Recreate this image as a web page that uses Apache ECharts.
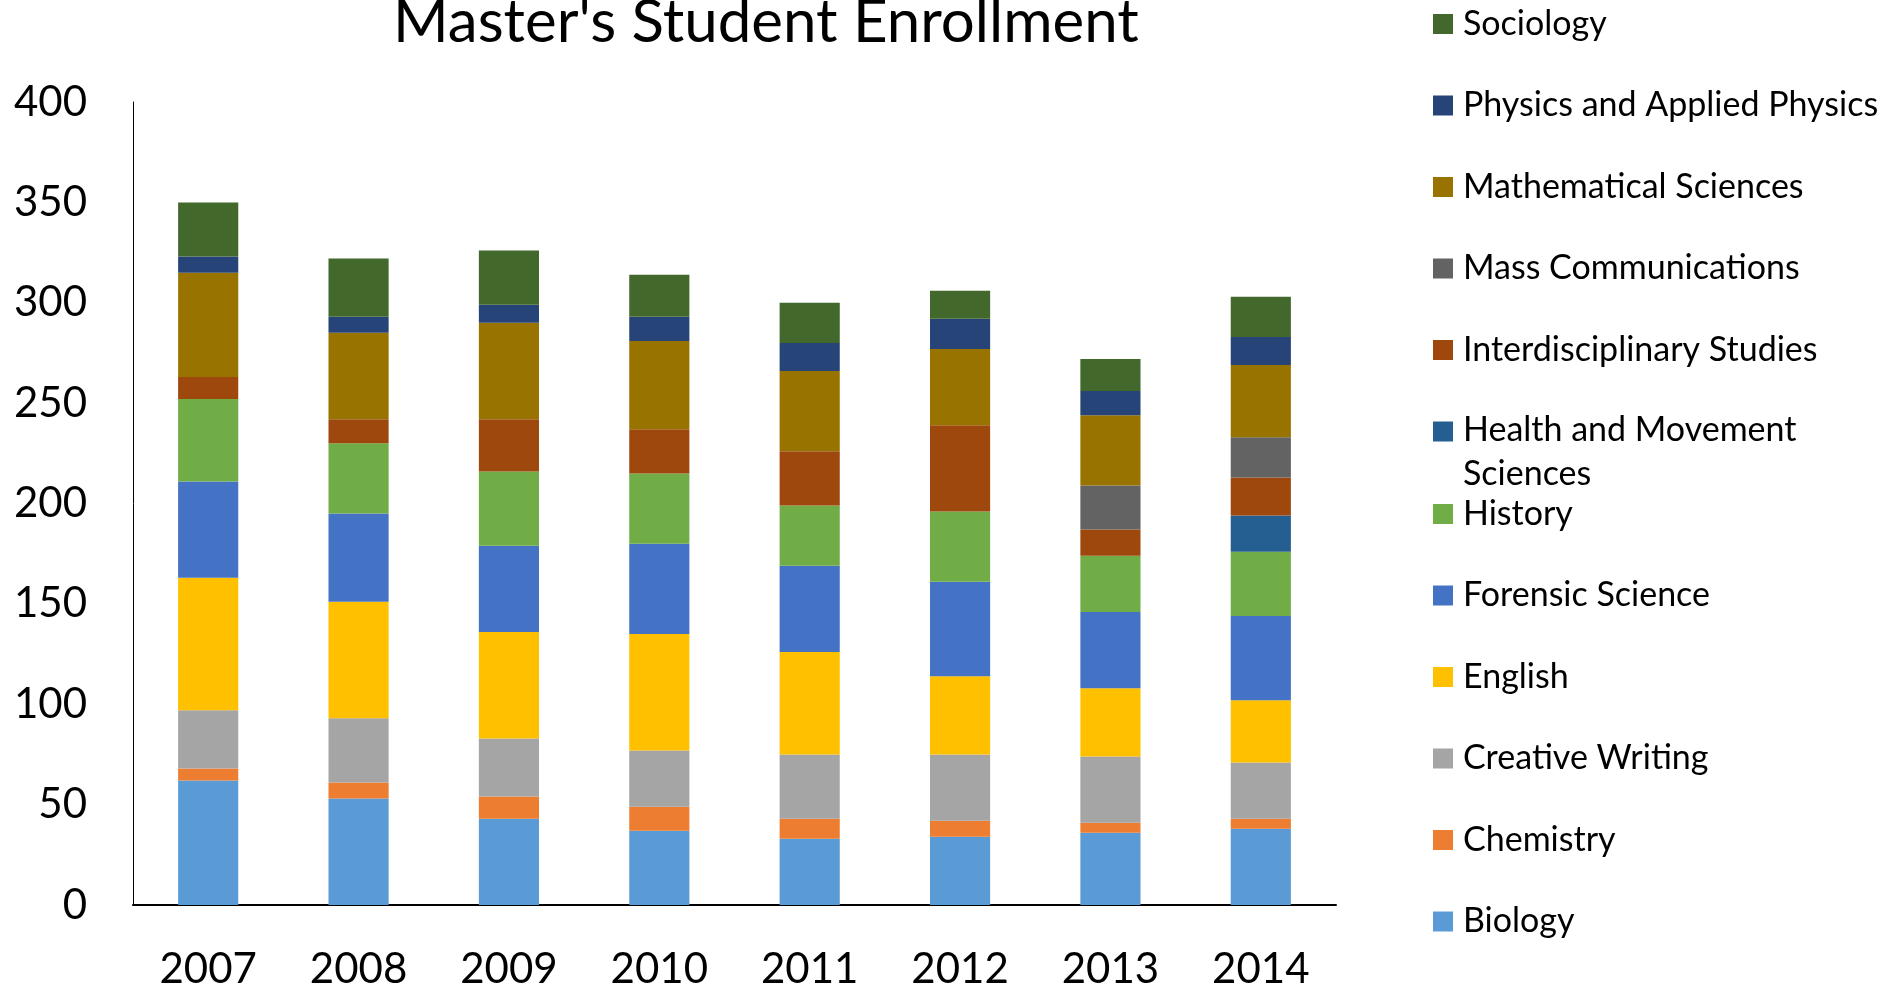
<!DOCTYPE html>
<html>
<head>
<meta charset="utf-8">
<title>Master's Student Enrollment</title>
<script src="https://cdn.jsdelivr.net/npm/echarts@6/dist/echarts.min.js"></script>
<style>
    html, body { margin: 0; padding: 0; background: #fff; }
    #main { width: 1896px; height: 990px; }
</style>
</head>
<body>
<!-- container with a fixed size for echarts -->
<div id="main"></div>
<script>
    // categories and tick labels
    var years = ['2007', '2008', '2009', '2010', '2011', '2012', '2013', '2014'];
    var yTicks = [0, 50, 100, 150, 200, 250, 300, 350, 400];

    // values per program, stacked bottom to top
    // (no "history" name here: it would clash with window.history)
    var biologyData = [62, 53, 43, 37, 33, 34, 36, 38];
    var chemistryData = [6, 8, 11, 12, 10, 8, 5, 5];
    var creativeWritingData = [29, 32, 29, 28, 32, 33, 33, 28];
    var englishData = [66, 58, 53, 58, 51, 39, 34, 31];
    var forensicData = [48, 44, 43, 45, 43, 47, 38, 42];
    var historyData = [41, 35, 37, 35, 30, 35, 28, 32];
    var healthData = [0, 0, 0, 0, 0, 0, 0, 18];
    var interdisciplinaryData = [11, 12, 26, 22, 27, 43, 13, 19];
    var massCommData = [0, 0, 0, 0, 0, 0, 22, 20];
    var mathData = [52, 43, 48, 44, 40, 38, 35, 36];
    var physicsData = [8, 8, 9, 12, 14, 15, 12, 14];
    var sociologyData = [27, 29, 27, 21, 20, 14, 16, 20];

    var programs = [
        ['Biology', biologyData, '#5B9BD5'],
        ['Chemistry', chemistryData, '#ED7D31'],
        ['Creative Writing', creativeWritingData, '#A5A5A5'],
        ['English', englishData, '#FFC000'],
        ['Forensic Science', forensicData, '#4472C4'],
        ['History', historyData, '#70AD47'],
        ['Health and Movement Sciences', healthData, '#255E91'],
        ['Interdisciplinary Studies', interdisciplinaryData, '#9E480E'],
        ['Mass Communications', massCommData, '#636363'],
        ['Mathematical Sciences', mathData, '#997300'],
        ['Physics and Applied Physics', physicsData, '#264478'],
        ['Sociology', sociologyData, '#43682B']
    ];

    var font = 'Lato, "Open Sans", sans-serif';

    function legendBlock(names, top) {
        return {
            orient: 'vertical',
            left: 1433,
            top: top,
            padding: 0,
            itemWidth: 20,
            itemHeight: 20,
            itemGap: 41.5,
            icon: 'rect',
            data: names,
            formatter: function (name) {
                if (name === 'Health and Movement Sciences') {
                    return '{a|Health and Movement}\n{b|Sciences}';
                }
                return name;
            },
            textStyle: {
                fontFamily: font,
                fontSize: 34,
                lineHeight: 40,
                color: '#000',
                padding: [0, 0, 0, 5],
                rich: {
                    a: { fontFamily: font, fontSize: 34, lineHeight: 38, color: '#000' },
                    b: { fontFamily: font, fontSize: 34, lineHeight: 2, verticalAlign: 'top', padding: [8, 0, 0, 0], color: '#000' }
                }
            }
        };
    }

    function drawChart() {
        var chart = echarts.init(document.getElementById('main'));
        var series = [];
        var legendNames = [];
        for (var i = 0; i < programs.length; i++) {
            series.push({
                name: programs[i][0],
                type: 'bar',
                stack: 'total',
                barWidth: '40%',
                itemStyle: { color: programs[i][2] },
                data: programs[i][1]
            });
            legendNames.unshift(programs[i][0]);
        }

        chart.setOption({
            animation: false,
            title: {
                text: "Master's Student Enrollment",
                left: 393,
                top: -7,
                padding: 0,
                textStyle: { fontFamily: font, fontSize: 60, fontWeight: 'normal', color: '#000' }
            },
            // split in two so the wrapped Health item does not push the rest down
            legend: [
                legendBlock(legendNames.slice(0, 6), 4),
                legendBlock(legendNames.slice(6), 494)
            ],
            grid: {
                left: 133,
                right: 560,
                top: 102,
                bottom: 84,
                containLabel: false
            },
            xAxis: {
                type: 'category',
                data: years,
                axisLine: { lineStyle: { color: '#000', width: 2 } },
                axisTick: { show: false },
                axisLabel: { fontFamily: font, fontSize: 42, color: '#000', margin: 43 }
            },
            yAxis: {
                type: 'value',
                min: yTicks[0],
                max: yTicks[yTicks.length - 1],
                interval: yTicks[1] - yTicks[0],
                axisLine: { show: true, lineStyle: { color: '#000', width: 1 } },
                axisTick: { show: false },
                splitLine: { show: false },
                axisLabel: { fontFamily: font, fontSize: 42, color: '#000', margin: 46 }
            },
            series: series
        });
    }

    drawChart();
</script>
</body>
</html>
